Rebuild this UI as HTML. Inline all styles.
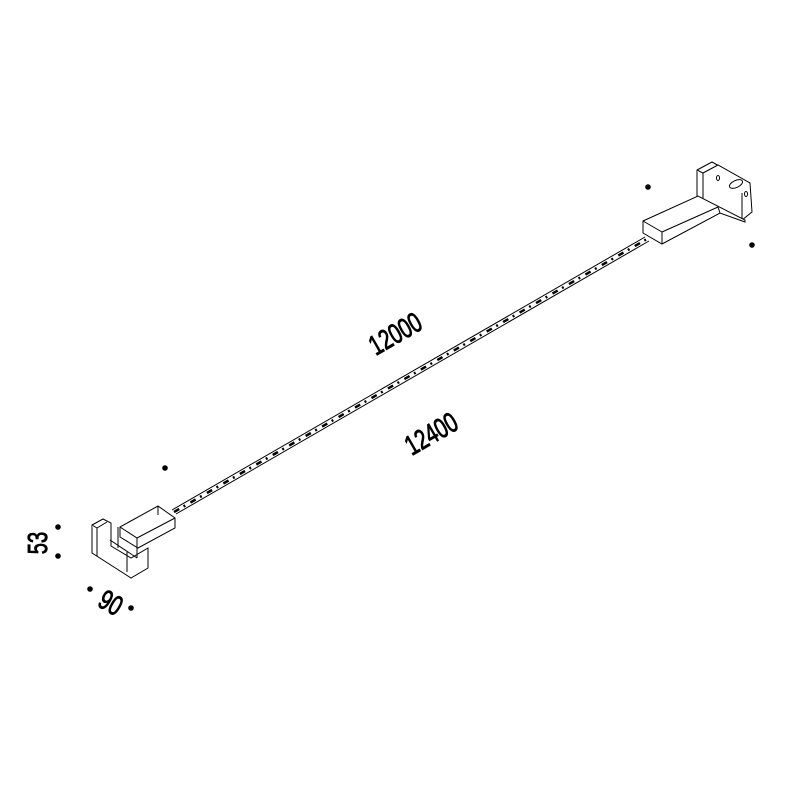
<!DOCTYPE html>
<html><head><style>body{margin:0;background:#fff}</style></head><body>
<svg width="800" height="800" viewBox="0 0 800 800" xmlns="http://www.w3.org/2000/svg">
<rect width="800" height="800" fill="#fff"/>
<g stroke="#000" stroke-width="1" fill="none">
<!-- strip -->
<line x1="172" y1="510" x2="645" y2="237"/>
<line x1="176" y1="514" x2="649" y2="241"/>
<line x1="174" y1="512" x2="647" y2="239" stroke-width="2.5" stroke-dasharray="6 5 2 6"/>
<!-- right fixture -->
<g fill="#fff">
<polygon points="697,170 712,162 750,183 752,212 742,220 697,197"/>
<polyline points="697,170 703,173 703,199"/>
<polyline points="703,173 718,165 750,183"/>
<line x1="742" y1="220" x2="742" y2="193"/>
<ellipse cx="736" cy="184" rx="7" ry="3.5" transform="rotate(-25 736 184)"/>
<ellipse cx="718" cy="178" rx="1.5" ry="2.5"/>
<ellipse cx="746" cy="194" rx="1.5" ry="2.5"/>
<polygon points="643,221 698,196 745,220 745,222 720,213 662,244 643,233"/>
<polyline points="643,221 662,232 662,244"/>
<line x1="662" y1="232" x2="718" y2="207"/>
<line x1="718" y1="207" x2="720" y2="213"/>
</g>
<!-- left fixture -->
<g fill="#fff">
<polygon points="92,525 103,519 111,523 111,546 131,558 148,548 148,568 131,578 92,553"/>
<polyline points="92,525 97,528 97,556"/>
<line x1="97" y1="528" x2="107" y2="522"/>
<polygon points="120,527 158,506 175,518 175,528 138,548 120,537"/>
<polyline points="120,527 137,538 175,518"/>
<line x1="137" y1="538" x2="137" y2="548"/>
<line x1="158" y1="506" x2="158" y2="515"/>
<line x1="110" y1="540" x2="137" y2="558"/>
<line x1="137" y1="558" x2="137" y2="548"/>
<line x1="118" y1="527" x2="118" y2="548"/>
<line x1="127" y1="552" x2="127" y2="572"/>
</g>
</g>
<g fill="#000">
<circle cx="648" cy="187" r="2.8"/><circle cx="752" cy="245" r="2.8"/>
<circle cx="165" cy="468" r="2.8"/><circle cx="58" cy="527" r="2.8"/>
<circle cx="58" cy="556" r="2.8"/><circle cx="90" cy="589" r="2.8"/>
<circle cx="131" cy="608" r="2.8"/>
</g>
<g font-family="Liberation Sans, sans-serif" font-size="28" fill="#000" stroke="#000" stroke-width="0.9" text-anchor="middle">
<text transform="translate(400,342) rotate(-30) scale(0.72,1)">12000</text>
<text transform="translate(436,442) rotate(-30) scale(0.72,1)">12400</text>
<text transform="translate(47,543) rotate(-90) scale(0.72,1)">53</text>
<text transform="translate(106,611) rotate(30) scale(0.72,1)">90</text>
</g>
</svg>
</body></html>
